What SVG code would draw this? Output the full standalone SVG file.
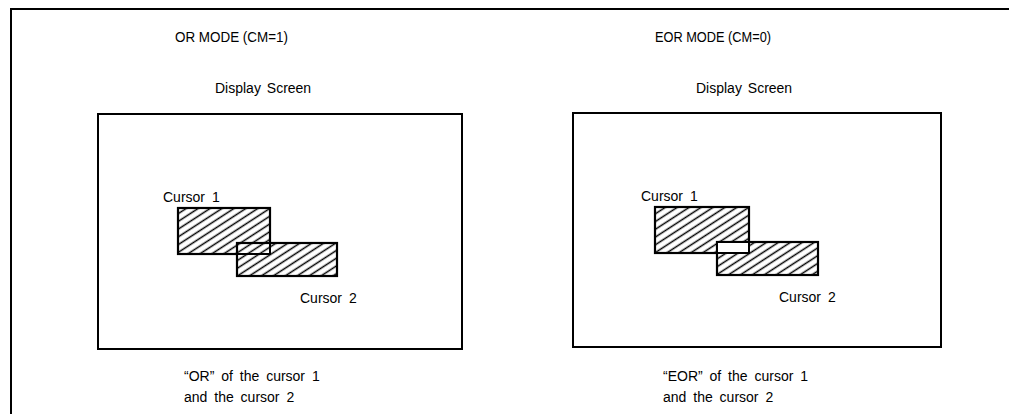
<svg xmlns="http://www.w3.org/2000/svg" width="1009" height="414" viewBox="0 0 1009 414">
<defs>
<style>
text{font-family:"Liberation Sans",Arial,sans-serif;fill:#000;font-size:14px}
.title{font-size:14.5px}
.box{fill:none;stroke:#000;stroke-width:2}
.cur{fill:url(#hatch);stroke:#000;stroke-width:2.2}
.frame{fill:none;stroke:#000;stroke-width:2}
</style>
<pattern id="hatch" patternUnits="userSpaceOnUse" width="10" height="6.5" patternTransform="rotate(-33)">
<rect width="10" height="6.5" fill="#fff"/>
<line x1="0" y1="3.25" x2="10" y2="3.25" stroke="#000" stroke-width="1.5"/>
</pattern>
</defs>
<path class="frame" d="M11 414 V9 H1009"/>
<g id="or-mode">
<text class="title" x="175" y="42" textLength="113" lengthAdjust="spacingAndGlyphs">OR MODE (CM=1)</text>
<text x="215" y="93" word-spacing="2">Display Screen</text>
<rect id="or-screen" class="box" x="98" y="114" width="364" height="235"/>
<g id="or-cursor1"><rect class="cur" x="178" y="208" width="92" height="46"/><text x="163" y="202" word-spacing="3">Cursor 1</text></g>
<g id="or-cursor2"><rect class="cur" x="237" y="243" width="100" height="33"/><text x="300" y="303" word-spacing="3">Cursor 2</text></g>
<rect class="box" x="237" y="243" width="33" height="11"/>
<text x="184" y="381" word-spacing="3">“OR” of the cursor 1</text>
<text x="184" y="402" word-spacing="3">and the cursor 2</text>
</g>
<g id="eor-mode">
<text class="title" x="655" y="42" textLength="116" lengthAdjust="spacingAndGlyphs">EOR MODE (CM=0)</text>
<text x="696" y="93" word-spacing="2">Display Screen</text>
<rect id="eor-screen" class="box" x="573" y="113" width="368" height="234"/>
<g id="eor-cursor1"><rect class="cur" x="655" y="207" width="94" height="46"/><text x="641" y="201" word-spacing="3">Cursor 1</text></g>
<g id="eor-cursor2"><rect class="cur" x="717" y="242" width="101" height="33"/><text x="779" y="302" word-spacing="3">Cursor 2</text></g>
<rect x="717" y="242" width="32" height="11" fill="#fff" stroke="#000" stroke-width="2"/>
<text x="663" y="381" word-spacing="3">“EOR” of the cursor 1</text>
<text x="663" y="402" word-spacing="3">and the cursor 2</text>
</g>
</svg>
